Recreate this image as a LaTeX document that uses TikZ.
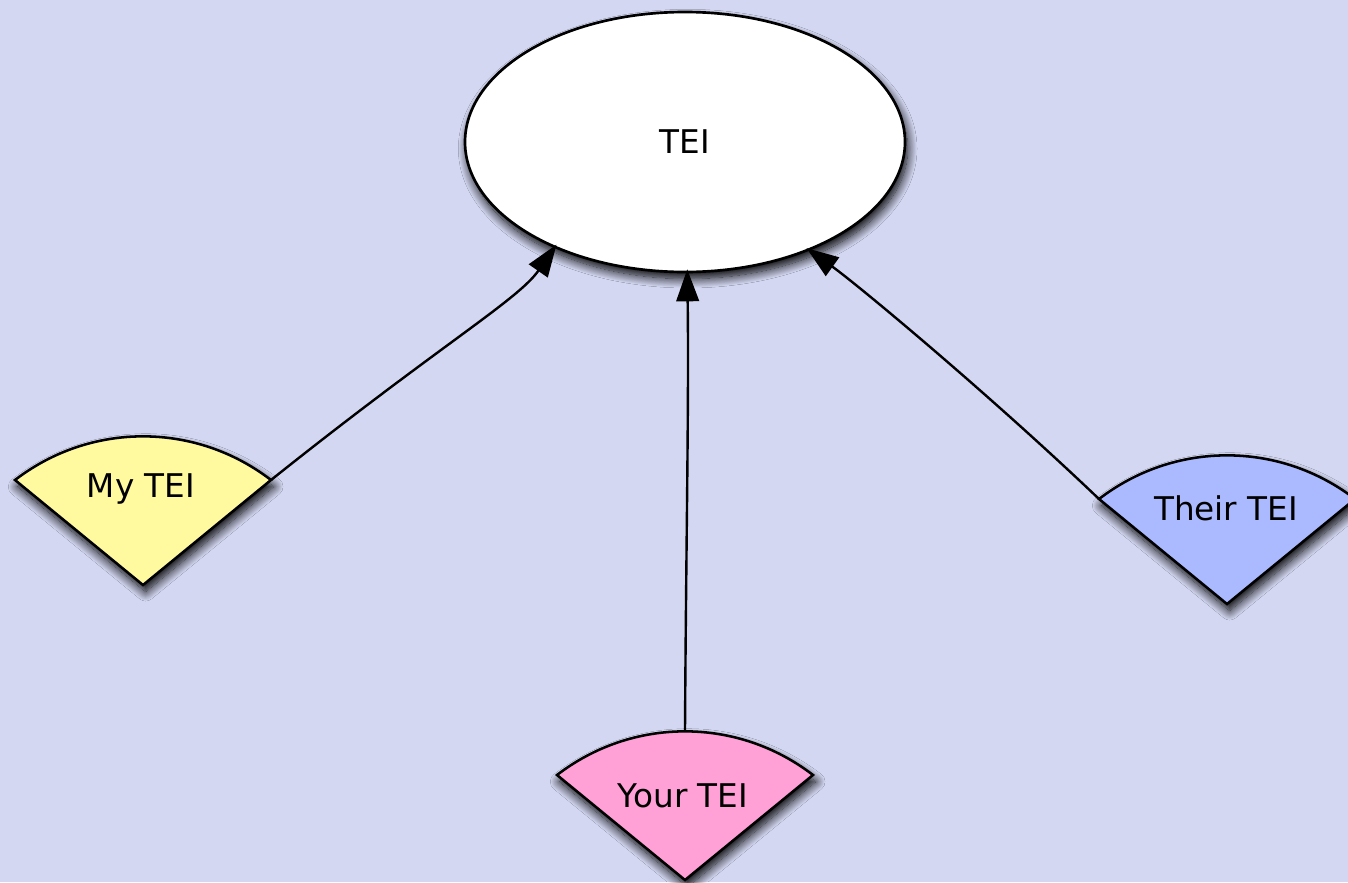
\documentclass[tikz,border=0pt]{standalone}
\usepackage{fontspec}
\setmainfont{DejaVu Sans}
\usetikzlibrary{shapes.geometric,arrows.meta,shadows.blur}
\definecolor{bgc}{RGB}{211,215,241}
\definecolor{myc}{RGB}{255,250,160}
\definecolor{yourc}{RGB}{255,160,215}
\definecolor{theirc}{RGB}{171,186,255}
\tikzset{
  myshadow/.style={blur shadow={shadow xshift=2pt, shadow yshift=-5pt, shadow blur radius=7pt, shadow opacity=100, shadow blur steps=14}},
  teibox/.style={ellipse, draw=black, fill=white, line width=2pt, minimum width=330pt, minimum height=195pt, inner sep=0pt, myshadow},
  fan/.style={draw=black, line width=1.9pt, line join=miter, myshadow},
  lbl/.style={font=\fontsize{24.5}{28}\selectfont, inner sep=0pt},
  conn/.style={draw=black, line width=1.8pt, -{Triangle[length=24pt, width=17pt]}, shorten >=-3pt}
}
\begin{document}
\begin{tikzpicture}[x=0.75pt, y=-0.75pt]
\useasboundingbox (0,0) rectangle (1348,882);
\fill[bgc] (0,0) rectangle (1348,882);

% central ellipse
\node[teibox, lbl] (tei) at (685,142) {TEI};

% apexes of the fans
\coordinate (myA) at (143,585);
\coordinate (yourA) at (685,880);
\coordinate (theirA) at (1227,604);

% fan shapes
\path[fan, fill=myc] (myA) -- ++(-128,-105) .. controls +(75.7,-58.2) and +(-75.7,-58.2) .. ++(256,0) coordinate (myR) -- cycle;
\path[fan, fill=yourc] (yourA) -- ++(-128,-105) .. controls +(75.7,-58.2) and +(-75.7,-58.2) .. ++(256,0) -- cycle;
\path[fan, fill=theirc] (theirA) -- ++(-128,-105) coordinate (theirL) .. controls +(75.7,-58.2) and +(-75.7,-58.2) .. ++(256,0) -- cycle;

\coordinate (yourT) at (685,731);

% labels
\node[lbl] (my) at (141,489) {My TEI};
\node[lbl] (your) at (683,796) {Your TEI};
\node[lbl] (their) at (1226,508) {Their TEI};

% connectors
\draw[conn] (myR) .. controls (440,345) and (518,300) .. (tei.219.3);
\draw[conn] (yourT) .. controls (686,550) and (689,400) .. (tei.271);
\draw[conn] (theirL) .. controls (990,395) and (858,285) .. (tei.319.8);
\end{tikzpicture}
\end{document}
